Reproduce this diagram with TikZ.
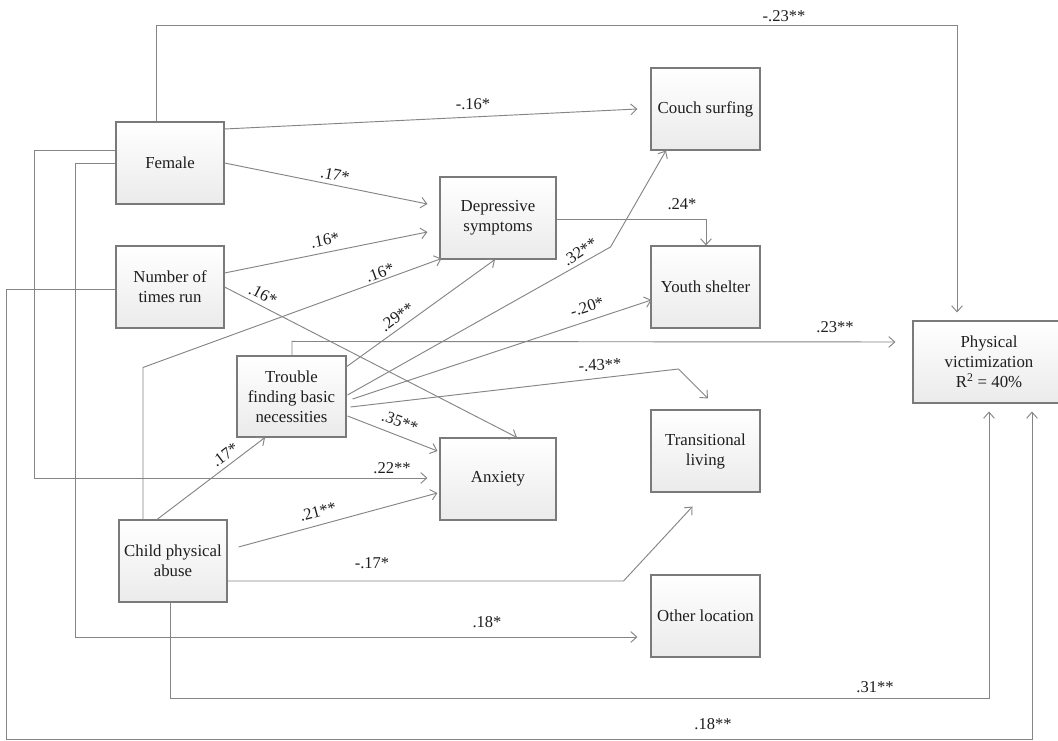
\documentclass[tikz,border=0pt]{standalone}
\usepackage{fontspec}
\setmainfont{Liberation Serif}
\usetikzlibrary{arrows.meta,calc}
\definecolor{linegray}{HTML}{858585}
\definecolor{boxgray}{HTML}{7A7A7A}
\definecolor{txt}{HTML}{1E1E1E}
\tikzset{
  box/.style={draw=boxgray, line width=0.8pt, top color=white, bottom color=black!8,
    minimum width=81pt, minimum height=61.5pt, inner sep=0pt, align=center,
    text=txt, font=\fontsize{12.6}{15}\selectfont},
  wbox/.style={box, minimum width=87pt},
  conn/.style={draw=linegray, line width=0.7pt},
  arr/.style={conn, -{Straight Barb[length=4.5pt,width=8pt,line width=0.7pt]}},
  lab/.style={text=txt, inner sep=0pt, font=\fontsize{12.4}{15}\selectfont}
}
\begin{document}
\begin{tikzpicture}[x=0.75pt,y=-0.75pt]
\useasboundingbox (0,0) rectangle (1058,741);
\fill[white] (0,0) rectangle (1058,741);

% nodes
\node[box] (fem) at (170,163) {Female};
\node[box] (ntr) at (170,287) {Number of\\times run};
\node[box] (cpa) at (173,561) {Child physical\\abuse};
\node[box, minimum width=81.75pt, minimum height=60.75pt] (tfb) at (291.5,396.5) {Trouble\\finding basic\\necessities};
\node[wbox] (dep) at (498,218) {Depressive\\symptoms};
\node[wbox] (anx) at (498,479) {Anxiety};
\node[box, minimum width=81.75pt] (cou) at (705.5,109) {Couch surfing};
\node[box, minimum width=81.75pt] (you) at (705.5,287) {Youth shelter};
\node[box, minimum width=81.75pt] (tra) at (705.5,451) {Transitional\\living};
\node[box, minimum width=81.75pt] (oth) at (705.5,616) {Other location};
\node[box, minimum width=114pt] (phys) at (989,362) {Physical\\victimization\\R\textsuperscript{2} = 40\%};

% connectors
\draw[arr] ($(fem.north)+(-14,0)$) -- ++(0,-96) -| ($(phys.north)+(-32,-8)$);
\draw[arr] ($(fem.east)+(0,-34)$) -- ($(cou.west)+(-13,0)$);
\draw[arr] (fem.east) -- ($(dep.west)+(-12,-14)$);
\draw[arr] ($(ntr.east)+(0,-14)$) -- ($(dep.west)+(-12,14)$);
\draw[arr] (ntr.east) -- ($(anx.north)+(19,0)$);
\draw[arr] ($(ntr.west)+(0,2)$) -- ++(-109,0) -- ++(0,450) -| ($(phys.south)+(43,8)$);
\draw[arr] ($(fem.west)+(0,-13)$) -- ++(-81,0) |- ($(anx.west)+(-12,-1)$);
\draw[arr] (fem.west) -- ++(-40,0) |- ($(oth.west)+(-13,21)$);
\draw[arr] ($(cpa.north)+(-30,0)$) -- ++(0,-152) -- ($(dep.south west)+(2,-1)$);
\draw[arr] ($(cpa.north)+(-16,0)$) -- ($(tfb.south)+(-26.5,0)$);
\draw[arr] ($(cpa.east)+(11,-14)$) -- ($(anx.west)+(-2,14)$);
\draw[arr] ($(cpa.east)+(0,20)$) -- ++(396,0) -- ($(tra.south)+(-13,14)$);
\draw[arr] ($(cpa.south)+(-3,0)$) -- ++(0,96) -| ($(phys.south)+(0,8)$);
\draw[arr] ($(tfb.north east)+(-1,12)$) -- ($(dep.south)+(-3,0)$);
\draw[arr] ($(tfb.east)+(1,-1.5)$) -- ++(263,-148) -- ($(cou.south)+(-39.5,0)$);
\draw[arr] ($(tfb.east)+(6,2.5)$) -- ($(you.west)+(1,13)$);
\draw[arr] ($(tfb.east)+(4,10.5)$) -- ++(328,-38) -- ($(tra.north)+(2.5,-11)$);
\draw[arr] ($(tfb.east)+(1,19.5)$) -- ($(anx.west)+(-2,-28)$);
\draw[arr] ($(tfb.north)+(0.5,0)$) -- ++(0,-14) -- ($(phys.west)+(-17,-20)$);
\draw[arr] ($(dep.east)+(0,1)$) -| ($(you.north)+(0.5,0)$);

% labels
\node[lab] (l1) at (784,16) {-.23**};
\node[lab] (l2) at (473,104) {-.16*};
\node[lab, rotate=-11.4] (l3) at (335,175) {.17*};
\node[lab, rotate=11.3] (l4) at (325,240) {.16*};
\node[lab, rotate=-27.4] (l5) at (263,295) {.16*};
\node[lab] (l6) at (713,724) {.18**};
\node[lab] (l7) at (392,468) {.22**};
\node[lab] (l8) at (487,622) {.18*};
\node[lab, rotate=20] (l9) at (380,273) {.16*};
\node[lab, rotate=37] (l10) at (225,455) {.17*};
\node[lab, rotate=15] (l11) at (318,512) {.21**};
\node[lab] (l12) at (372,563) {-.17*};
\node[lab] (l13) at (875,687) {.31**};
\node[lab, rotate=36] (l14) at (397,317) {.29**};
\node[lab, rotate=33] (l15) at (580,252) {.32**};
\node[lab, rotate=18] (l16) at (587,307) {-.20*};
\node[lab, rotate=3] (l17) at (600,365) {-.43**};
\node[lab, rotate=-21] (l18) at (400,422) {.35**};
\node[lab] (l19) at (835,327) {.23**};
\node[lab] (l20) at (682,204) {.24*};
\end{tikzpicture}
\end{document}
